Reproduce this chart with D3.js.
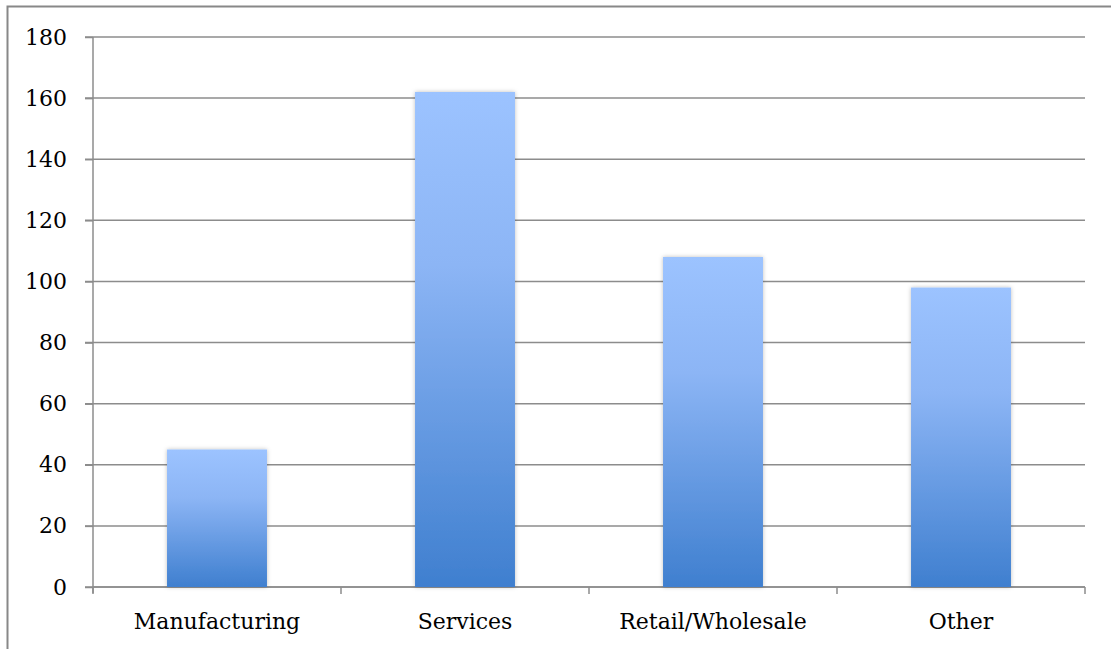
<!DOCTYPE html>
<html><head><meta charset="utf-8">
<script src="https://cdn.jsdelivr.net/npm/d3@7"></script>
<style>body{margin:0;background:#fff}svg{display:block}text{font-family:"DejaVu Serif",serif}</style>
</head><body>
<svg id="c" width="1111" height="649"></svg>
<script>
const categories = ["Manufacturing","Services","Retail/Wholesale","Other"];
const values = [45,162,108,98];
const yTicks = [0,20,40,60,80,100,120,140,160,180];

const svg = d3.select("#c");
const m = {l:93, r:1085, t:37, b:587};
svg.append("rect").attr("x",7.5).attr("y",6.5).attr("width",1120).attr("height",700)
  .attr("fill","none").attr("stroke","#888").attr("stroke-width",2);

const x = d3.scaleBand().domain(categories).range([m.l,m.r]).paddingInner(0).paddingOuter(0);
const y = d3.scaleLinear().domain([0,180]).range([m.b,m.t]);

const defs = svg.append("defs");
const g = defs.append("linearGradient").attr("id","gr").attr("x1",0).attr("y1",0).attr("x2",0).attr("y2",1);
g.append("stop").attr("offset","0%").attr("stop-color","#9cc3ff");
g.append("stop").attr("offset","35%").attr("stop-color","#8cb5f5");
g.append("stop").attr("offset","100%").attr("stop-color","#3f7fcf");
const f = defs.append("filter").attr("id","sh").attr("x","-10%").attr("y","-10%").attr("width","120%").attr("height","120%");
f.append("feDropShadow").attr("dx",0).attr("dy",0).attr("stdDeviation",2).attr("flood-color","#000").attr("flood-opacity",0.25);

// gridlines
svg.append("g").selectAll("line").data(yTicks).join("line")
  .attr("x1",m.l-8).attr("x2",m.r).attr("y1",d=>y(d)).attr("y2",d=>y(d))
  .attr("stroke","#8c8c8c").attr("stroke-width",1.5);

// y axis
const ya = svg.append("g").attr("transform",`translate(${m.l},0)`)
  .call(d3.axisLeft(y).tickValues(yTicks).tickSize(8).tickPadding(18));
ya.select(".domain").attr("stroke","#8c8c8c").attr("stroke-width",1.5).attr("d",`M0,${m.t}V${m.b+6}`);
ya.selectAll(".tick line").attr("stroke","#8c8c8c").attr("stroke-width",1.5);
ya.selectAll("text").attr("font-size",22).attr("fill","#000").style("font-family","'DejaVu Serif',serif");

// x axis
const xa = svg.append("g").attr("transform",`translate(0,${m.b})`);
xa.append("line").attr("x1",m.l).attr("x2",m.r).attr("stroke","#8c8c8c").attr("stroke-width",1.5);
const bounds = [m.l, ...categories.map(c=>x(c)+x.bandwidth())];
xa.selectAll("line.t").data(bounds).join("line").attr("class","t")
  .attr("x1",d=>d).attr("x2",d=>d).attr("y1",0).attr("y2",7).attr("stroke","#8c8c8c").attr("stroke-width",1.5);
xa.selectAll("text").data(categories).join("text")
  .attr("x",d=>x(d)+x.bandwidth()/2).attr("y",42).attr("text-anchor","middle")
  .attr("font-size",22).attr("fill","#000").text(d=>d);

// bars
const bw = x.bandwidth()*0.403;
svg.append("g").selectAll("rect").data(values).join("rect")
  .attr("x",(d,i)=>x(categories[i])+(x.bandwidth()-bw)/2)
  .attr("width",bw)
  .attr("y",d=>y(d)).attr("height",d=>y(0)-y(d))
  .attr("fill","url(#gr)").attr("filter","url(#sh)");
</script>
</body></html>
